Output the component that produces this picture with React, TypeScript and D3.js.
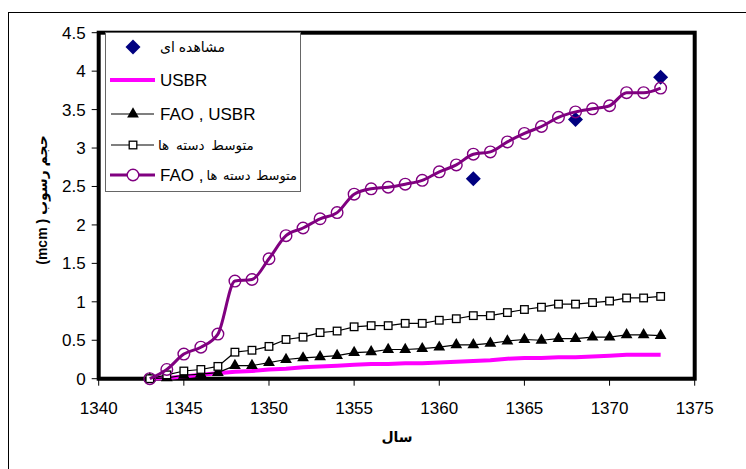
import * as d3 from 'd3'

const years = [
  1343, 1344, 1345, 1346, 1347, 1348, 1349, 1350, 1351, 1352, 1353, 1354, 1355, 1356, 1357, 1358,
  1359, 1360, 1361, 1362, 1363, 1364, 1365, 1366, 1367, 1368, 1369, 1370, 1371, 1372, 1373,
]
const usbr = [
  0, 0.01, 0.03, 0.05, 0.07, 0.09, 0.1, 0.12, 0.13, 0.15, 0.16, 0.17, 0.18, 0.19, 0.19, 0.2, 0.2,
  0.21, 0.22, 0.23, 0.24, 0.26, 0.27, 0.27, 0.28, 0.28, 0.29, 0.3, 0.31, 0.31, 0.31,
]
const faoUsbr = [
  0, 0.01, 0.045, 0.06, 0.08, 0.17, 0.17, 0.21, 0.25, 0.27, 0.285, 0.3, 0.34, 0.35, 0.38, 0.38, 0.39,
  0.41, 0.44, 0.44, 0.46, 0.49, 0.51, 0.5, 0.52, 0.52, 0.54, 0.54, 0.57, 0.57, 0.56,
]
const clusterMean = [
  0, 0.05, 0.1, 0.12, 0.16, 0.345, 0.37, 0.42, 0.51, 0.54, 0.6, 0.62, 0.675, 0.69, 0.69, 0.72, 0.72,
  0.76, 0.78, 0.82, 0.82, 0.86, 0.9, 0.93, 0.97, 0.97, 0.99, 1.01, 1.05, 1.05, 1.07,
]
const faoClusterMean = [
  0, 0.12, 0.32, 0.41, 0.58, 1.27, 1.29, 1.56, 1.86, 1.96, 2.08, 2.16, 2.4, 2.47, 2.49, 2.53, 2.58,
  2.69, 2.78, 2.92, 2.95, 3.08, 3.19, 3.28, 3.4, 3.47, 3.51, 3.55, 3.72, 3.72, 3.78,
]
const observedYears = [1362, 1368, 1373]
const observed = [2.6, 3.37, 3.92]

const xTicks = [1340, 1345, 1350, 1355, 1360, 1365, 1370, 1375]
const yTicks = [0, 0.5, 1, 1.5, 2, 2.5, 3, 3.5, 4, 4.5]

const obsLabel = 'مشاهده ای'
const usbrLabel = 'USBR'
const faoUsbrLabel = 'FAO , USBR'
const clusterLabel = 'متوسط دسته ها'
const faoPrefix = 'FAO ,'
const xTitle = 'سال'
const yTitle = '(mcm ) حجم رسوب'

const NAVY = '#000080'
const MAGENTA = '#ff00ff'
const PURPLE = '#800080'
const FONT = '"Liberation Sans", Arial, "DejaVu Sans", sans-serif'

export default function App() {
  const W = 746
  const H = 469
  const plot = { left: 98.7, right: 694.7, top: 32.7, bottom: 378.7 }

  const x = d3.scaleLinear().domain([1340, 1375]).range([plot.left, plot.right])
  const y = d3.scaleLinear().domain([0, 4.5]).range([plot.bottom, plot.top])

  const linear = d3
    .line<number>()
    .x((_, i) => x(years[i]))
    .y((d) => y(d))
  const smooth = d3
    .line<number>()
    .x((_, i) => x(years[i]))
    .y((d) => y(d))
    .curve(d3.curveMonotoneX)

  const tri = d3.symbol(d3.symbolTriangle, 60)()
  const diamond = (cx: number, cy: number, r: number) =>
    `M${cx},${cy - r}L${cx + r},${cy}L${cx},${cy + r}L${cx - r},${cy}Z`

  const leg = { x: 105.5, y: 32.5, w: 195, h: 159, mx: 133, tx: 160 }
  const legY = [47, 80, 114, 145, 175]

  return (
    <svg
      width={W}
      height={H}
      style={{ position: 'absolute', left: 0, top: 0, background: '#fff' }}
      fontFamily={FONT}
    >
      {/* outer chart border */}
      <rect x={8.5} y={12.5} width={800} height={600} fill="#fff" stroke="#000" strokeWidth={1} />

      {/* y ticks + labels */}
      {yTicks.map((t) => (
        <g key={'y' + t}>
          <line x1={plot.left - 7} x2={plot.left} y1={y(t)} y2={y(t)} stroke="#000" />
          <text x={plot.left - 13} y={y(t)} dy="0.35em" textAnchor="end" fontSize={17}>
            {t}
          </text>
        </g>
      ))}

      {/* x ticks + labels */}
      <line x1={plot.left} x2={plot.right} y1={plot.bottom + 1} y2={plot.bottom + 1} stroke="#000" />
      {xTicks.map((t) => (
        <g key={'x' + t}>
          <line x1={x(t)} x2={x(t)} y1={plot.bottom} y2={plot.bottom + 7} stroke="#000" />
          <text x={x(t)} y={plot.bottom + 35} textAnchor="middle" fontSize={17}>
            {t}
          </text>
        </g>
      ))}

      {/* plot frame */}
      <rect
        x={plot.left}
        y={plot.top}
        width={plot.right - plot.left}
        height={plot.bottom - plot.top}
        fill="none"
        stroke="#000"
        strokeWidth={4}
      />

      {/* observations */}
      {observed.map((v, i) => (
        <path key={'o' + i} d={diamond(x(observedYears[i]), y(v), 7.5)} fill={NAVY} />
      ))}

      {/* USBR */}
      <path d={linear(usbr) ?? ''} fill="none" stroke={MAGENTA} strokeWidth={4} />

      {/* FAO, USBR */}
      <path d={linear(faoUsbr) ?? ''} fill="none" stroke="#000" strokeWidth={1.2} />
      {faoUsbr.map((v, i) => (
        <path key={'t' + i} d={tri} transform={`translate(${x(years[i])},${y(v)})`} fill="#000" />
      ))}

      {/* cluster mean */}
      <path d={linear(clusterMean) ?? ''} fill="none" stroke="#000" strokeWidth={1.2} />
      {clusterMean.map((v, i) => (
        <rect
          key={'s' + i}
          x={x(years[i]) - 3.8}
          y={y(v) - 3.8}
          width={7.6}
          height={7.6}
          fill="#fff"
          stroke="#000"
          strokeWidth={1.3}
        />
      ))}

      {/* FAO, cluster mean */}
      <path d={smooth(faoClusterMean) ?? ''} fill="none" stroke={PURPLE} strokeWidth={3} />
      {faoClusterMean.map((v, i) => (
        <circle
          key={'c' + i}
          cx={x(years[i])}
          cy={y(v)}
          r={5.8}
          fill="none"
          stroke={PURPLE}
          strokeWidth={1.4}
        />
      ))}

      {/* legend */}
      <rect x={leg.x} y={leg.y} width={leg.w} height={leg.h} fill="#fff" stroke="#666" strokeWidth={1} />
      <path d={diamond(leg.mx, legY[0], 7.5)} fill={NAVY} />
      <line x1={110} x2={155} y1={legY[1]} y2={legY[1]} stroke={MAGENTA} strokeWidth={4} />
      <line x1={111} x2={154} y1={legY[2]} y2={legY[2]} stroke="#000" strokeWidth={1.2} />
      <path d={tri} transform={`translate(${leg.mx},${legY[2]})`} fill="#000" />
      <line x1={111} x2={154} y1={legY[3]} y2={legY[3]} stroke="#000" strokeWidth={1.2} />
      <rect
        x={leg.mx - 3.8}
        y={legY[3] - 3.8}
        width={7.6}
        height={7.6}
        fill="#fff"
        stroke="#000"
        strokeWidth={1.3}
      />
      <line x1={110} x2={155} y1={legY[4]} y2={legY[4]} stroke={PURPLE} strokeWidth={3} />
      <circle cx={leg.mx} cy={legY[4]} r={5.8} fill="#fff" stroke={PURPLE} strokeWidth={1.4} />

      <text x={leg.tx} y={legY[0]} dy="0.35em" fontSize={14}>
        {obsLabel}
      </text>
      <text x={leg.tx} y={legY[1]} dy="0.35em" fontSize={17}>
        {usbrLabel}
      </text>
      <text x={leg.tx} y={legY[2]} dy="0.35em" fontSize={17}>
        {faoUsbrLabel}
      </text>
      <text x={158} y={legY[3]} dy="0.35em" fontSize={13.5} wordSpacing={3}>
        {clusterLabel}
      </text>
      <text x={leg.tx} y={legY[4]} dy="0.35em" fontSize={17}>
        {faoPrefix}
      </text>
      <text x={297} y={legY[4]} dy="0.35em" textAnchor="end" fontSize={13} wordSpacing={2}>
        {clusterLabel}
      </text>

      {/* axis titles */}
      <text x={397} y={437} dy="0.35em" textAnchor="middle" fontSize={14} fontWeight="bold">
        {xTitle}
      </text>
      <text
        transform={`translate(42,200) rotate(-90)`}
        dy="0.35em"
        textAnchor="middle"
        fontSize={14}
        fontWeight="bold"
      >
        {yTitle}
      </text>
    </svg>
  )
}
